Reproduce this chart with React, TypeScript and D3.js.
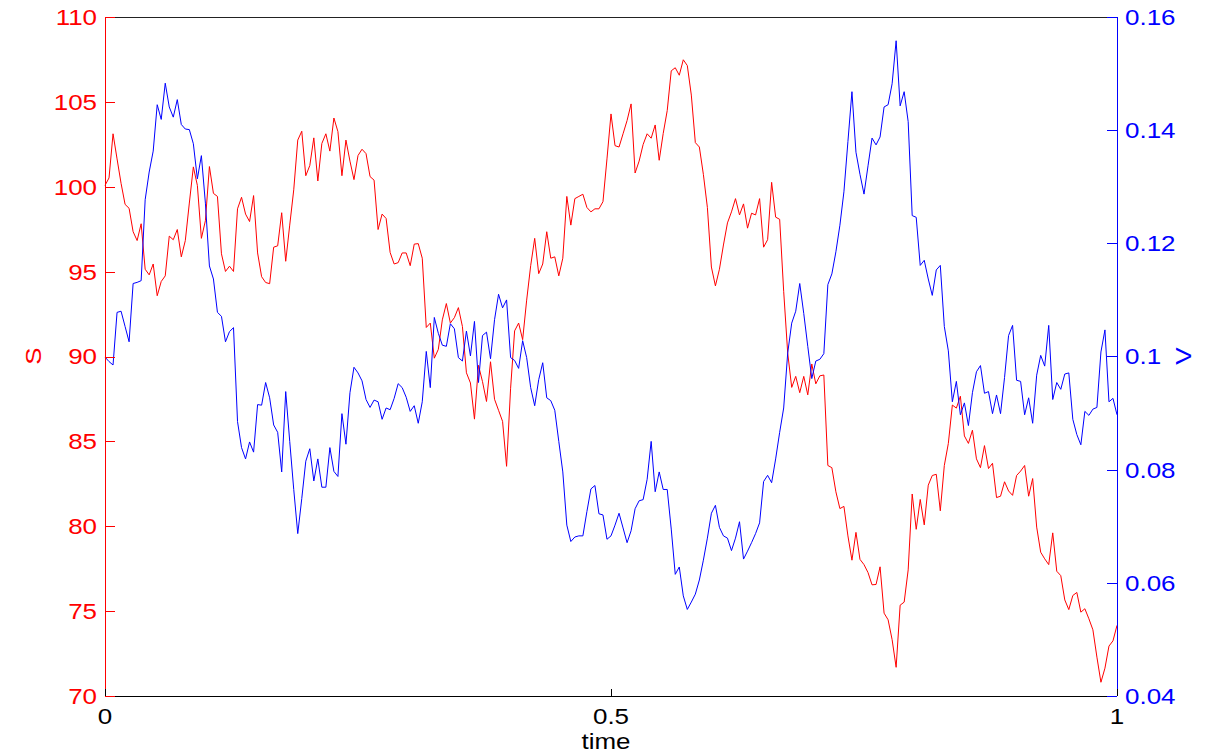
import React from 'react';
import * as d3 from 'd3';

// price path S (left axis) and variance path V (right axis)
const sValues = [
  100.08, 100.52, 103.12, 101.64, 100.2, 98.96, 98.73, 97.35, 96.83, 97.82, 95.14, 94.81, 95.45, 93.58, 94.42,
  94.75, 97.09, 96.88, 97.48, 95.87, 96.83, 99.04, 101.17, 100.08, 96.96, 98.0, 101.19, 99.61, 99.43, 96.05,
  95.01, 95.32, 95.01, 98.7, 99.38, 98.39, 97.95, 99.48, 96.1, 94.7, 94.36, 94.29, 96.44,
  96.52, 98.47, 95.61, 97.74, 99.82, 102.75, 103.27, 100.65, 101.25, 102.88, 100.34, 102.55, 103.12, 102.1,
  104.05, 103.25, 100.65, 102.75, 101.51, 100.42, 101.84, 102.21, 101.95, 100.6, 100.39, 97.48, 98.39, 98.13,
  96.13, 95.45, 95.53, 96.1, 96.1, 95.35, 96.62, 96.65, 95.79, 91.71, 91.97, 89.9, 90.42, 92.16,
  93.12, 91.97, 92.29, 92.88, 91.77, 89.04, 88.44, 86.31, 89.48, 88.52, 87.35, 89.69, 87.48, 86.83, 86.18,
  83.53, 88.13, 91.51, 91.97, 90.99, 93.32, 95.35, 96.96, 94.88, 95.45, 97.35, 95.79, 95.87, 94.75, 95.79,
  99.43, 97.74, 99.3, 99.43, 99.56, 98.78, 98.52, 98.7, 98.7, 99.12, 101.64, 104.29, 102.42,
  102.34, 103.12, 103.9, 104.88, 100.81, 101.51, 102.49, 103.12, 102.86, 103.64, 101.56, 103.14, 104.49,
  106.83, 107.01, 106.57, 107.48, 107.14, 105.4, 102.6, 102.34, 100.73, 98.78, 95.27, 94.16, 95.14, 96.57,
  97.87, 98.52, 99.3, 98.34, 98.99, 97.56, 98.44, 98.34, 99.3, 96.44, 96.88, 100.26, 98.21, 98.08,
  93.84, 90.21, 88.18, 88.83, 87.87, 88.83, 87.74, 89.56, 88.39, 88.86, 88.91, 83.58, 83.45, 82.03, 81.04,
  81.17, 79.43, 78.0, 79.64, 78.05, 77.74, 77.27, 76.55, 76.57, 77.61, 74.88, 74.49, 73.32, 71.69, 75.35,
  75.53, 77.43, 81.9, 79.82, 81.58, 80.08, 82.42, 82.99, 83.06, 80.91, 83.58, 84.88, 87.14,
  86.96, 87.66, 85.32, 84.88, 85.66, 83.97, 83.45, 84.75, 83.4, 83.71, 81.69, 81.77, 82.62, 82.08, 81.82,
  82.99, 83.25, 83.58, 81.77, 82.81, 79.95, 78.47, 78.08, 77.74, 79.61, 77.35, 77.09, 75.66, 75.09, 75.92,
  76.1, 74.94, 75.14, 74.55, 73.9, 72.29, 70.81, 71.64, 72.94, 73.25, 74.16,
];

const vValues = [
  0.0999, 0.0991, 0.0985, 0.1078, 0.108, 0.1053, 0.1026, 0.1129, 0.1131, 0.1134, 0.1277, 0.1326, 0.1363,
  0.1445, 0.1419, 0.1483, 0.1441, 0.1423, 0.1454, 0.141, 0.1402, 0.1401, 0.1376, 0.1314, 0.1355, 0.1271,
  0.116, 0.1137, 0.1078, 0.1071, 0.1026, 0.1044, 0.1051, 0.0885, 0.0839, 0.0819, 0.0849, 0.0831, 0.0915,
  0.0914, 0.0954, 0.0927, 0.0879,
  0.0866, 0.0796, 0.0938, 0.085, 0.0765, 0.0687, 0.0749, 0.0815, 0.0837, 0.078, 0.0819, 0.0769, 0.0769,
  0.0839, 0.0797, 0.0788, 0.0899, 0.0845, 0.0936, 0.0981, 0.0971, 0.0957, 0.0924, 0.091, 0.0923, 0.092,
  0.0889, 0.0909, 0.0906, 0.0926, 0.0952, 0.0945, 0.0928, 0.0903, 0.0913, 0.0882, 0.092, 0.1009, 0.0945,
  0.1069, 0.1041, 0.102,
  0.1018, 0.1058, 0.1049, 0.0998, 0.0992, 0.1045, 0.1001, 0.1062, 0.0954, 0.1037, 0.1043, 0.0996, 0.1065,
  0.111, 0.1086, 0.11, 0.0998, 0.0993, 0.0979, 0.1028, 0.0998, 0.0945, 0.0913, 0.0959, 0.0989, 0.0927,
  0.0922, 0.0905, 0.085, 0.0796, 0.0702, 0.0673, 0.0681, 0.0683, 0.0683, 0.0726, 0.0766, 0.0772, 0.0722,
  0.072, 0.0677, 0.0683, 0.0702,
  0.0723, 0.0697, 0.0671, 0.0692, 0.0731, 0.0745, 0.0747, 0.0783, 0.085, 0.0761, 0.0796, 0.0765, 0.0765,
  0.0695, 0.0615, 0.0628, 0.0577, 0.0553, 0.0566, 0.058, 0.0605, 0.064, 0.0679, 0.0723, 0.0737, 0.0698,
  0.0683, 0.0679, 0.0657, 0.0679, 0.0708, 0.0642, 0.0656, 0.0671, 0.0687, 0.0706, 0.0779, 0.079, 0.0777,
  0.0819, 0.0866, 0.0909,
  0.1006, 0.1059, 0.108, 0.1129, 0.1076, 0.1018, 0.0961, 0.0992, 0.0995, 0.1005, 0.1127, 0.1146, 0.1185,
  0.1232, 0.1291, 0.138, 0.1468, 0.1361, 0.1322, 0.1287, 0.1337, 0.1386, 0.1374, 0.1388, 0.1441, 0.1445,
  0.1482, 0.1558, 0.1443, 0.1468, 0.1415, 0.1249, 0.1246, 0.1161, 0.117, 0.1137, 0.1108, 0.1153, 0.1161,
  0.1053, 0.101, 0.092,
  0.0956, 0.0897, 0.0918, 0.0878, 0.0936, 0.0973, 0.0984, 0.0935, 0.0938, 0.0899, 0.0932, 0.0899, 0.0963,
  0.1037, 0.1055, 0.0958, 0.0956, 0.0897, 0.0927, 0.0882, 0.0967, 0.1002, 0.0983, 0.1055, 0.0924, 0.0954,
  0.0942, 0.0969, 0.0971, 0.0889, 0.0862, 0.0844, 0.0903, 0.0896, 0.0907, 0.091, 0.1008, 0.1047, 0.092,
  0.0926, 0.0897,
];

const sTicks = [70, 75, 80, 85, 90, 95, 100, 105, 110];
const vTicks = [0.04, 0.06, 0.08, 0.1, 0.12, 0.14, 0.16];
const timeTicks = [0, 0.5, 1];

const W = 1205, H = 752;
const left = 105, right = 1117, top = 17, bottom = 696;
const RED = '#ff0000', BLUE = '#0000ff';
const font = '"Liberation Sans", Arial, sans-serif';
const fs = 22, stretch = 1.18;
const yTickLen = 10, xTickLen = 7;

const x = d3.scaleLinear().domain([0, 1]).range([left, right]);
const yS = d3.scaleLinear().domain([70, 110]).range([bottom, top]);
const yV = d3.scaleLinear().domain([0.04, 0.16]).range([bottom, top]);

const t = (i: number, n: number) => i / (n - 1);

const sLine = d3.line<number>().x((d, i) => x(t(i, sValues.length))).y(d => yS(d));
const vLine = d3.line<number>().x((d, i) => x(t(i, vValues.length))).y(d => yV(d));

// wide-ish text like the original figure
const Label = ({ x0, y0, anchor, fill, rotate = 0, children }: any) => (
  <g transform={`translate(${x0},${y0}) rotate(${rotate}) scale(${stretch},1)`}>
    <text textAnchor={anchor} dy="0.36em" fill={fill} fontFamily={font} fontSize={fs}>
      {children}
    </text>
  </g>
);

export default function App() {
  return (
    <svg width={W} height={H} style={{ position: 'absolute', left: 0, top: 0, background: '#fff' }}>
      <rect width={W} height={H} fill="#fff" />

      <path d={sLine(sValues) || ''} fill="none" stroke={RED} strokeWidth={1} />
      <path d={vLine(vValues) || ''} fill="none" stroke={BLUE} strokeWidth={1} />

      {/* frame */}
      <line x1={left} x2={right} y1={top + 0.5} y2={top + 0.5} stroke="#222" />
      <line x1={left} x2={right} y1={bottom + 0.5} y2={bottom + 0.5} stroke="#000" />
      <line x1={left + 0.5} x2={left + 0.5} y1={top} y2={bottom} stroke={RED} />
      <line x1={right + 0.5} x2={right + 0.5} y1={top} y2={bottom} stroke={BLUE} />

      {sTicks.map(v => (
        <g key={'s' + v}>
          <line x1={left} x2={left + yTickLen} y1={Math.round(yS(v)) + 0.5} y2={Math.round(yS(v)) + 0.5} stroke={RED} />
          <Label x0={97} y0={yS(v)} anchor="end" fill={RED}>{d3.format('d')(v)}</Label>
        </g>
      ))}

      {vTicks.map(v => (
        <g key={'v' + v}>
          <line x1={right - yTickLen} x2={right} y1={Math.round(yV(v)) + 0.5} y2={Math.round(yV(v)) + 0.5} stroke={BLUE} />
          <Label x0={1125} y0={yV(v)} anchor="start" fill={BLUE}>{String(+v.toFixed(2))}</Label>
        </g>
      ))}

      {timeTicks.map(v => (
        <g key={'t' + v}>
          <line x1={Math.round(x(v)) + 0.5} x2={Math.round(x(v)) + 0.5} y1={bottom - xTickLen} y2={bottom} stroke="#000" />
          <Label x0={x(v)} y0={716} anchor="middle" fill="#000">{String(v)}</Label>
        </g>
      ))}

      <Label x0={606} y0={741} anchor="middle" fill="#000">time</Label>
      <Label x0={33} y0={356} anchor="middle" fill={RED} rotate={-90}>S</Label>
      <Label x0={1183} y0={356} anchor="middle" fill={BLUE} rotate={-90}>V</Label>
    </svg>
  );
}
